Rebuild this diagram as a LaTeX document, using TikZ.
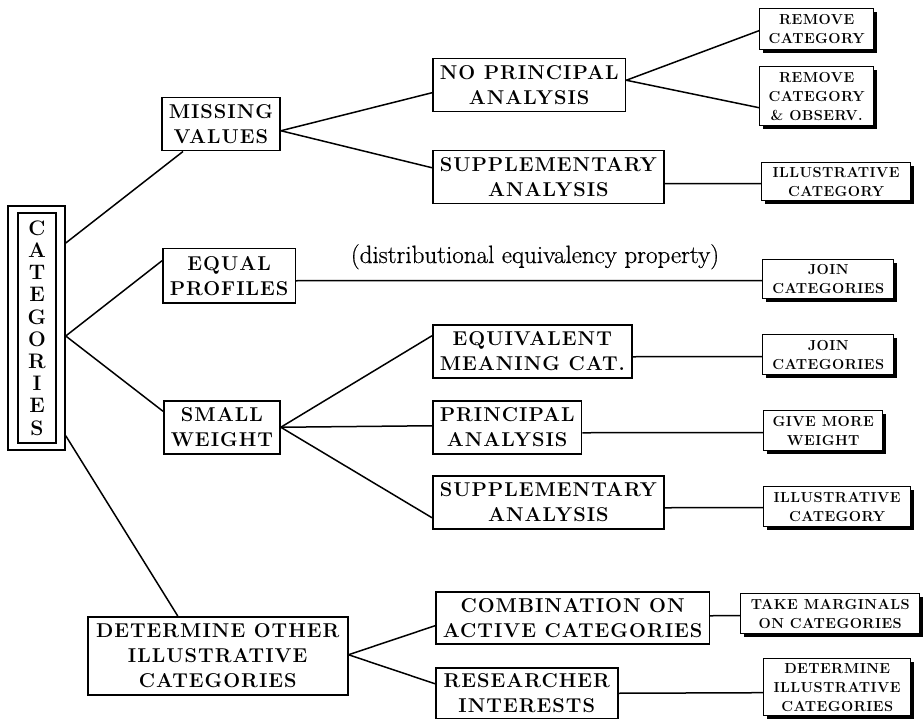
\documentclass[tikz,border=0pt]{standalone}
\usepackage{fontspec}
\setmainfont{Latin Modern Roman}
\newfontfamily\mainf[LetterSpace=5]{Latin Modern Roman}
\newfontfamily\smallf[LetterSpace=3]{Latin Modern Roman}
\newfontfamily\lblf[FakeBold=0.6]{Latin Modern Roman}
\usetikzlibrary{shadows,calc}
\begin{document}
\begin{tikzpicture}[x=1pt,y=-1pt,
  mainbox/.style={draw, line width=1.5pt, inner xsep=7pt, inner ysep=0pt, align=center, anchor=north west,
    font=\mainf\bfseries\fontsize{20}{25}\selectfont},
  rbox/.style={draw, line width=1.4pt, fill=white,
    drop shadow={shadow xshift=3pt, shadow yshift=-3pt, opacity=1, fill=black},
    inner sep=0pt, align=center, anchor=north west,
    font=\smallf\bfseries\fontsize{14.5}{19}\selectfont},
  conn/.style={line width=1.5pt},
  catbox/.style={draw, line width=1.5pt, inner sep=0pt}]
\useasboundingbox (0,0) rectangle (923,719);

% root
\node[catbox, minimum width=57, minimum height=244] (catout) at (36.5,328) {};
\node[catbox, minimum width=38, minimum height=230, align=center,
      font=\bfseries\fontsize{21}{22.2}\selectfont] (catin) at (37,328)
      {C\\A\\T\\E\\G\\O\\R\\I\\E\\S};

% first level
\node[mainbox, minimum width=117, minimum height=53] (mv) at (161,97) {MISSING\\VALUES};
\node[mainbox, minimum width=126, minimum height=54] (ep) at (162,248) {EQUAL\\PROFILES};
\node[mainbox, minimum width=116, minimum height=53] (sw) at (163,400) {SMALL\\WEIGHT};
\node[mainbox, minimum width=260, minimum height=78] (dt) at (87,616) {DETERMINE OTHER\\ILLUSTRATIVE\\CATEGORIES};

% second level
\node[mainbox, minimum height=53] (np) at (432,58) {NO PRINCIPAL\\ANALYSIS};
\node[mainbox, minimum height=53] (sa1) at (432,150) {SUPPLEMENTARY\\ANALYSIS};
\node[mainbox, minimum height=53] (eq) at (432,324) {EQUIVALENT\\MEANING CAT.};
\node[mainbox, minimum height=53] (pa) at (432,400) {PRINCIPAL\\ANALYSIS};
\node[mainbox, minimum height=53] (sa2) at (432,475) {SUPPLEMENTARY\\ANALYSIS};
\node[mainbox, minimum width=273, minimum height=52] (co) at (435,591) {COMBINATION ON\\ACTIVE CATEGORIES};
\node[mainbox, minimum width=182, minimum height=51] (re) at (435,667) {RESEARCHER\\INTERESTS};

% label
\node[font=\lblf\fontsize{25}{30}\selectfont, anchor=base, inner sep=0pt] (lbl) at (535,263)
  {(distributional equivalency property)};

% connectors
\draw[conn] ($(catout.east)+(0,-85)$) -- ($(mv.south west)+(22,0)$);
\draw[conn] ($(catout.east)+(0,8)$) -- ($(ep.west)+(0,-15)$);
\draw[conn] ($(catout.east)+(0,8)$) -- ($(sw.west)+(0,-16)$);
\draw[conn] ($(catout.south east)+(0,-15)$) -- ($(dt.north)+(-40,0)$);
\draw[conn] ($(mv.east)+(0,6.5)$) -- ($(np.west)+(0,7.5)$);
\draw[conn] ($(mv.east)+(0,6.5)$) -- ($(sa1.west)+(0,-9.5)$);
\draw[conn] (sw.east) -- ($(eq.west)+(0,-15.5)$);
\draw[conn] (sw.east) -- ($(pa.west)+(0,-1.5)$);
\draw[conn] (sw.east) -- ($(sa2.west)+(0,15.5)$);
\draw[conn] ($(dt.east)+(0,-1)$) -- ($(co.west)+(0,8)$);
\draw[conn] ($(dt.east)+(0,-1)$) -- ($(re.west)+(0,-9.5)$);

% third level
\node[rbox, minimum width=114, minimum height=41] (r1) at (759,8) {REMOVE\\CATEGORY};
\node[rbox, minimum width=114, minimum height=59] (r2) at (759,66) {REMOVE\\CATEGORY\\\& OBSERV.};
\node[rbox, minimum width=149, minimum height=38] (r3) at (761,162) {ILLUSTRATIVE\\CATEGORY};
\node[rbox, minimum width=131, minimum height=39] (r4) at (762,259) {JOIN\\CATEGORIES};
\node[rbox, minimum width=131, minimum height=40] (r5) at (762,334) {JOIN\\CATEGORIES};
\node[rbox, minimum width=119, minimum height=40] (r6) at (763,410) {GIVE MORE\\WEIGHT};
\node[rbox, minimum width=147, minimum height=40] (r7) at (763,486) {ILLUSTRATIVE\\CATEGORY};
\node[rbox, minimum width=179, minimum height=40] (r8) at (740,593) {TAKE MARGINALS\\ON CATEGORIES};
\node[rbox, minimum width=147, minimum height=57] (r9) at (763,658) {DETERMINE\\ILLUSTRATIVE\\CATEGORIES};

\draw[conn] ($(np.east)+(0,-5)$) -- ($(r1.west)+(0,1.5)$);
\draw[conn] ($(np.east)+(0,-5)$) -- ($(r2.west)+(0,11.5)$);
\draw[conn] ($(sa1.east)+(0,6.5)$) -- ($(r3.west)+(0,2)$);
\draw[conn] ($(ep.east)+(0,5)$) -- ($(r4.west)+(0,1.5)$);
\draw[conn] ($(eq.east)+(0,5.5)$) -- ($(r5.west)+(0,2)$);
\draw[conn] ($(pa.east)+(0,5.5)$) -- ($(r6.west)+(0,2)$);
\draw[conn] ($(sa2.east)+(0,5.5)$) -- ($(r7.west)+(0,1)$);
\draw[conn] ($(co.east)+(0,-2)$) -- ($(r8.west)+(0,2)$);
\draw[conn] (re.east) -- ($(r9.west)+(0,5.5)$);
\end{tikzpicture}
\end{document}
